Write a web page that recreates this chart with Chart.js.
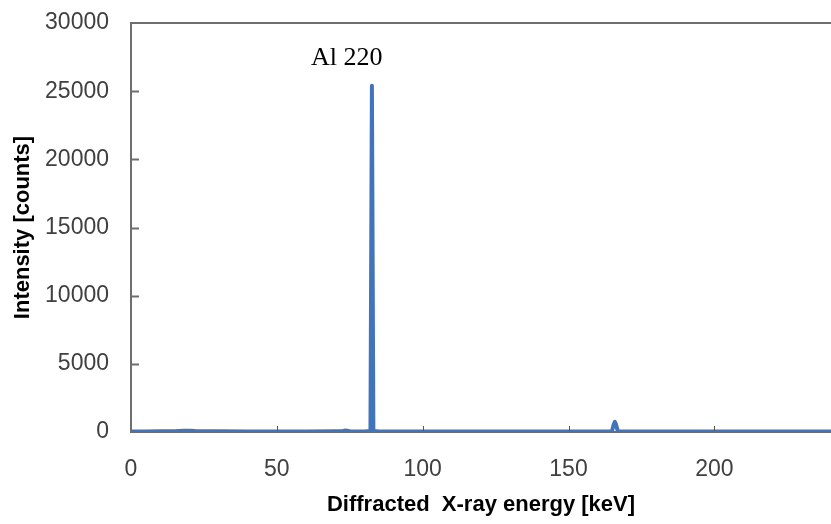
<!DOCTYPE html>
<html>
<head>
<meta charset="utf-8">
<script src="https://cdn.jsdelivr.net/npm/chart.js@4.4.1/dist/chart.umd.min.js"></script>
<style>
html,body{margin:0;padding:0;background:#fff;}
#wrap{width:831px;height:524px;}
</style>
</head>
<body>
<div id="wrap"><canvas id="c" width="831" height="524"></canvas></div>
<script>
// ---- data ----
const energyKeV = [0, 5, 10, 15, 18, 20, 22, 30, 40, 50, 60, 70, 72.5, 73.5, 75, 80, 82.1, 82.6, 83.1, 85, 90, 100, 120, 140, 160, 164.9, 165.5, 165.9, 166.3, 166.9, 170, 180, 200, 220, 240];
const intensityCounts = [40, 40, 50, 60, 90, 90, 70, 50, 40, 40, 40, 50, 60, 110, 50, 40, 80, 25400, 80, 40, 40, 40, 40, 40, 40, 60, 550, 750, 550, 60, 40, 40, 40, 40, 40];
const yTicks = [0, 5000, 10000, 15000, 20000, 25000, 30000];
const xTicks = [0, 50, 100, 150, 200];
const peakLabel = { text: 'Al 220', x: 74, y: 27400 };
const xTitle = 'Diffracted  X-ray energy [keV]';
const yTitle = 'Intensity [counts]';

const points = energyKeV.map((e, i) => ({ x: e, y: intensityCounts[i] }));
const tickFont = { family: '"Liberation Sans", Arial, sans-serif', size: 23 };
const titleFont = { family: '"Liberation Sans", Arial, sans-serif', size: 22, weight: 'bold' };

const frame = {
  id: 'frame',
  afterDatasetsDraw(chart) {
    const { ctx, chartArea: a, scales: { x, y } } = chart;
    ctx.save();
    ctx.strokeStyle = '#6e6e6e';
    ctx.lineWidth = 2;
    ctx.beginPath();
    ctx.moveTo(a.left - 1, a.top);
    ctx.lineTo(a.right, a.top);
    ctx.stroke();
    yTicks.forEach(v => {
      if (v === 0 || v === 30000) return;
      const py = Math.round(y.getPixelForValue(v)) + 0.5;
      ctx.beginPath();
      ctx.moveTo(a.left, py);
      ctx.lineTo(a.left + 8, py);
      ctx.stroke();
    });
    ctx.strokeStyle = '#555';
    ctx.lineWidth = 1;
    xTicks.forEach(v => {
      if (v === 0) return;
      const px = Math.round(x.getPixelForValue(v)) + 0.5;
      ctx.beginPath();
      ctx.moveTo(px, a.bottom - 1);
      ctx.lineTo(px, a.bottom - 6);
      ctx.stroke();
    });
    ctx.fillStyle = '#000';
    ctx.font = '26px "Liberation Serif", "DejaVu Serif", serif';
    ctx.textAlign = 'center';
    ctx.textBaseline = 'middle';
    ctx.fillText(peakLabel.text, x.getPixelForValue(peakLabel.x), y.getPixelForValue(peakLabel.y));
    ctx.restore();
  }
};

new Chart(document.getElementById('c'), {
  type: 'line',
  data: {
    datasets: [{
      data: points,
      borderColor: '#4274bc',
      borderWidth: 4,
      borderJoinStyle: 'round',
      pointRadius: 0,
      tension: 0,
      fill: false
    }]
  },
  options: {
    responsive: false,
    animation: false,
    layout: { padding: { top: 23, right: 0, bottom: 0, left: 0 } },
    plugins: { legend: { display: false }, tooltip: { enabled: false } },
    scales: {
      x: {
        type: 'linear',
        min: 0,
        max: 240,
        afterBuildTicks(s) { s.ticks = xTicks.map(v => ({ value: v })); },
        afterFit(s) { s.height = 92; s.paddingLeft = 0; s.paddingRight = 0; },
        grid: { display: false, drawTicks: false },
        border: { display: true, color: '#6e6e6e', width: 2 },
        ticks: {
          padding: 24,
          color: '#404040',
          font: tickFont,
          maxRotation: 0,
          callback: v => String(v)
        },
        title: {
          display: true,
          text: xTitle,
          color: '#000',
          font: titleFont,
          padding: { top: 0, bottom: 6 }
        }
      },
      y: {
        min: 0,
        max: 30000,
        afterBuildTicks(s) { s.ticks = yTicks.map(v => ({ value: v })); },
        afterFit(s) { s.width = 131; s.paddingTop = 0; s.paddingBottom = 0; },
        grid: { display: false, drawTicks: false },
        border: { display: true, color: '#6e6e6e', width: 2 },
        ticks: {
          padding: 22,
          color: '#404040',
          font: tickFont,
          callback: v => String(v)
        },
        title: {
          display: true,
          text: yTitle,
          color: '#000',
          font: titleFont,
          padding: { top: 10, bottom: 0 }
        }
      }
    }
  },
  plugins: [frame]
});
</script>
</body>
</html>
